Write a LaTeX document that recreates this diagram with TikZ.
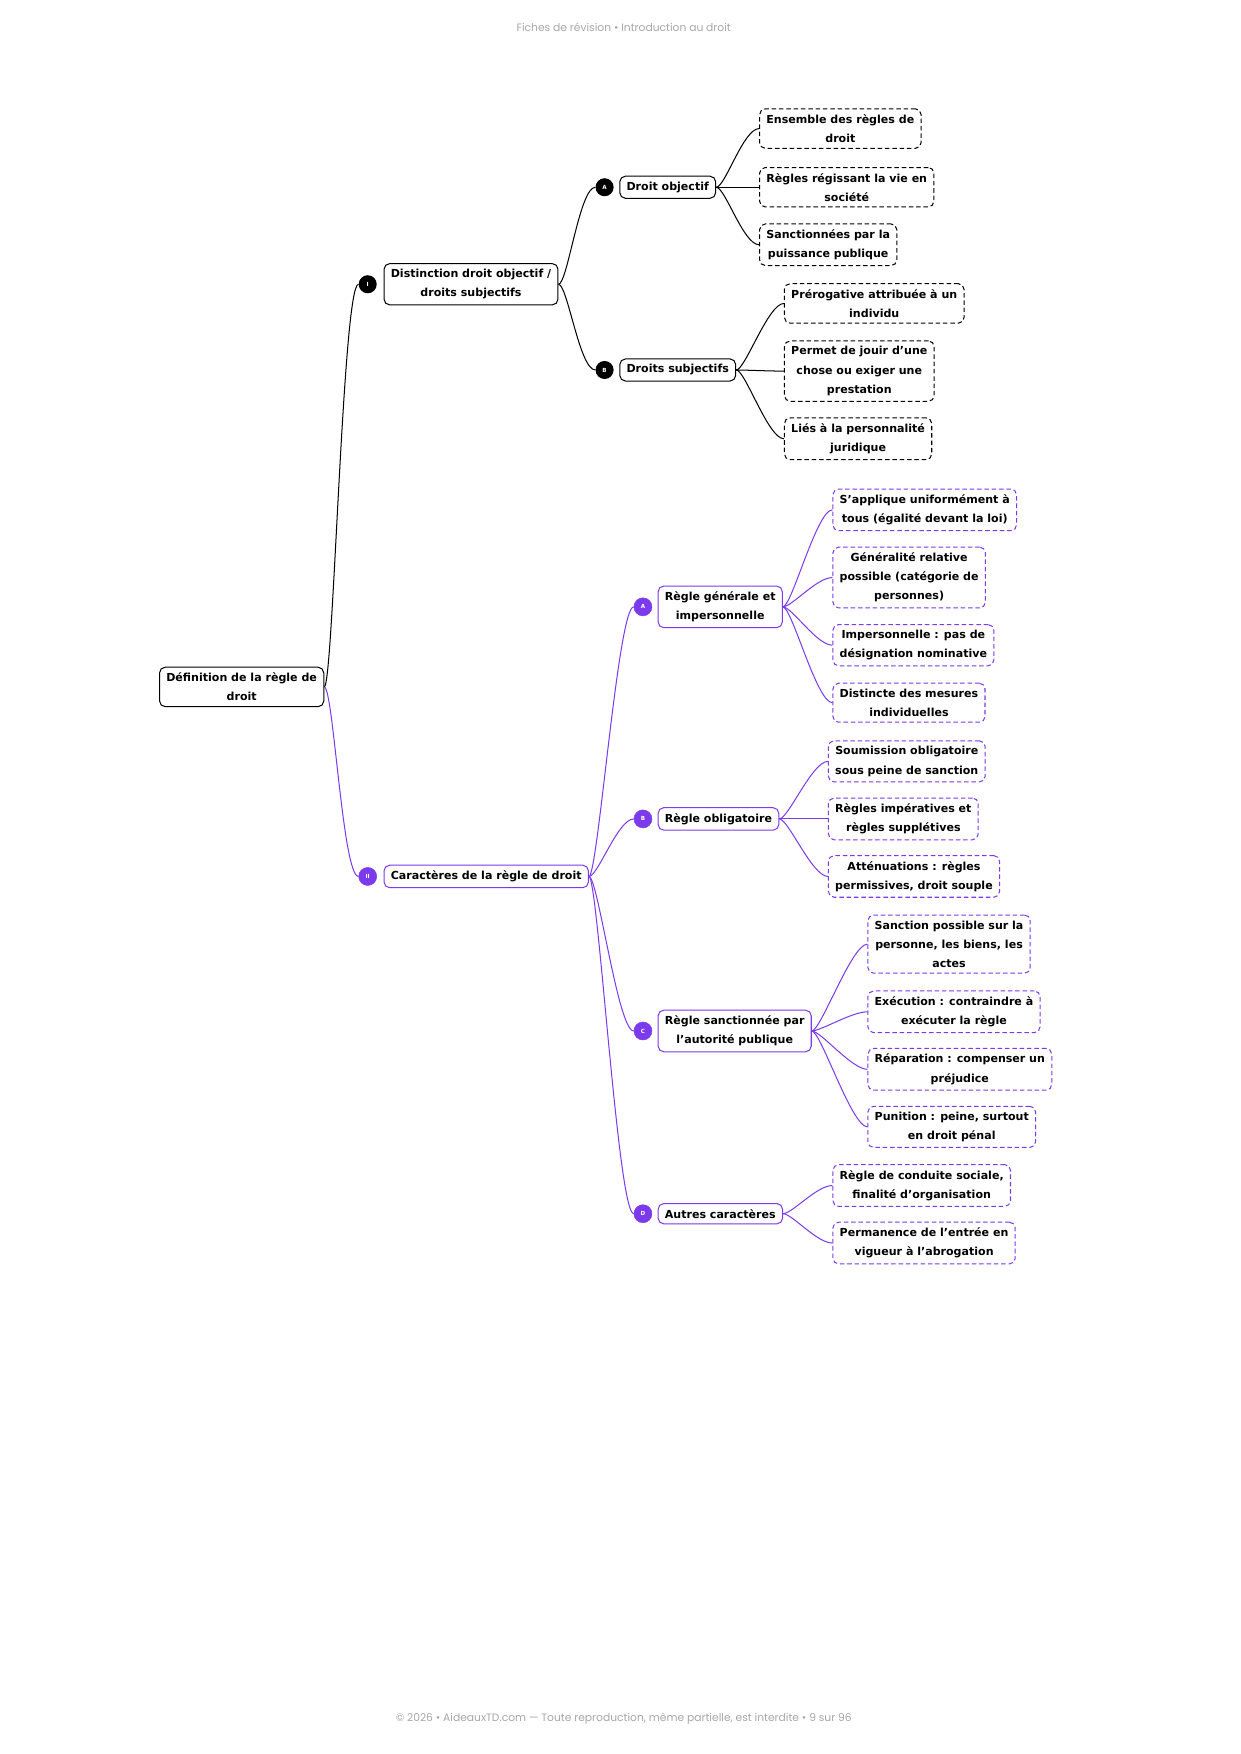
\documentclass[tikz,border=0pt]{standalone}
\usepackage{fontspec}
\setmainfont{DejaVu Sans}
\newfontfamily\hdr{Poppins}
\definecolor{pur}{HTML}{7C3AED}
\begin{document}
\begin{tikzpicture}[x=1pt,y=-1pt,
 box/.style={draw,rounded corners=5pt,line width=0.9pt,align=center,font=\fontsize{9.8}{17}\selectfont\bfseries,inner xsep=6pt,inner ysep=5pt,anchor=west,fill=white},
 leaf/.style={box,dashed,dash pattern=on 4pt off 2.5pt},
 dot/.style={circle,fill,inner sep=0pt,minimum size=16pt,text=white,font=\fontsize{5}{5}\selectfont\bfseries},
 con/.style={line width=0.9pt}]
\useasboundingbox (0,0) rectangle (1100,1555);
\node[font=\hdr\fontsize{9.5}{11}\selectfont,text=gray!70] (hd) at (553,24) {Fiches de révision • Introduction au droit};
\node[font=\hdr\fontsize{9.5}{11}\selectfont,text=gray!70] (ft) at (553,1524) {© 2026 • AideauxTD.com — Toute reproduction, même partielle, est interdite • 9 sur 96};

\node[box] (root) at (141,609) {Définition de la règle de\\droit};
% I
\node[dot] (cI) at (326,252) {I};
\node[box] (I) at (340,252) {Distinction droit objectif /\\droits subjectifs};
\node[dot] (cIA) at (536,166) {A};
\node[box] (IA) at (549,166) {Droit objectif};
\node[dot] (cIB) at (536,328) {B};
\node[box] (IB) at (549,328) {Droits subjectifs};
\node[leaf] (a1) at (673,114) {Ensemble des règles de\\droit};
\node[leaf] (a2) at (673,166) {Règles régissant la vie en\\société};
\node[leaf] (a3) at (673,217) {Sanctionnées par la\\puissance publique};
\node[leaf] (b1) at (695,269) {Prérogative attribuée à un\\individu};
\node[leaf] (b2) at (695,329) {Permet de jouir d'une\\chose ou exiger une\\prestation};
\node[leaf] (b3) at (695,389) {Liés à la personnalité\\juridique};
% II
\begin{scope}[every node/.append style={draw=pur},dot/.append style={fill=pur}]
\node[dot] (cII) at (326,777) {II};
\node[box] (II) at (340,777) {Caractères de la règle de droit};
\node[dot] (cA) at (570,538) {A};
\node[box] (A) at (583,538) {Règle générale et\\impersonnelle};
\node[dot] (cB) at (570,726) {B};
\node[box] (B) at (583,726) {Règle obligatoire};
\node[dot] (cC) at (570,914) {C};
\node[box] (C) at (583,914) {Règle sanctionnée par\\l'autorité publique};
\node[dot] (cD) at (570,1076) {D};
\node[box] (D) at (583,1076) {Autres caractères};
\node[leaf] (A1) at (738,452) {S'applique uniformément à\\tous (égalité devant la loi)};
\node[leaf] (A2) at (738,512) {Généralité relative\\possible (catégorie de\\personnes)};
\node[leaf] (A3) at (738,572) {Impersonnelle : pas de\\désignation nominative};
\node[leaf] (A4) at (738,623) {Distincte des mesures\\individuelles};
\node[leaf] (B1) at (734,675) {Soumission obligatoire\\sous peine de sanction};
\node[leaf] (B2) at (734,726) {Règles impératives et\\règles supplétives};
\node[leaf] (B3) at (734,777) {Atténuations : règles\\permissives, droit souple};
\node[leaf] (C1) at (769,837) {Sanction possible sur la\\personne, les biens, les\\actes};
\node[leaf] (C2) at (769,897) {Exécution : contraindre à\\exécuter la règle};
\node[leaf] (C3) at (769,948) {Réparation : compenser un\\préjudice};
\node[leaf] (C4) at (769,999) {Punition : peine, surtout\\en droit pénal};
\node[leaf] (D1) at (738,1051) {Règle de conduite sociale,\\finalité d'organisation};
\node[leaf] (D2) at (738,1102) {Permanence de l'entrée en\\vigueur à l'abrogation};
\end{scope}

\begin{scope}[con]
\foreach \p/\c in {root/cI,I/cIA,I/cIB,IA/a1,IA/a2,IA/a3,IB/b1,IB/b2,IB/b3}
 \draw (\p.east) .. controls ([xshift=8pt]\p.east) and ([xshift=-14pt]\c.west) .. (\c.west);
\end{scope}
\begin{scope}[con,pur]
\foreach \p/\c in {root/cII,II/cA,II/cB,II/cC,II/cD,A/A1,A/A2,A/A3,A/A4,B/B1,B/B2,B/B3,C/C1,C/C2,C/C3,C/C4,D/D1,D/D2}
 \draw (\p.east) .. controls ([xshift=8pt]\p.east) and ([xshift=-14pt]\c.west) .. (\c.west);
\end{scope}
\end{tikzpicture}
\end{document}
